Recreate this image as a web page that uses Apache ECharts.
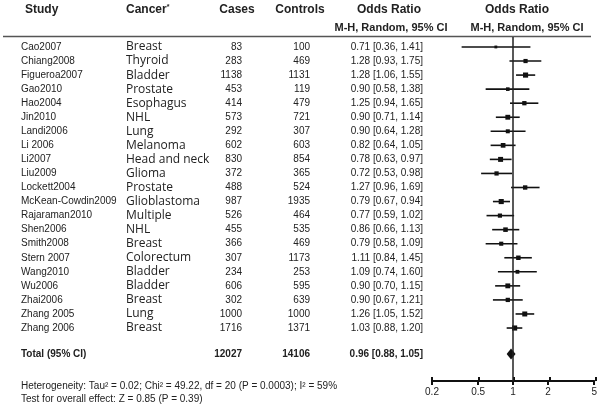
<!DOCTYPE html>
<html><head><meta charset="utf-8">
<script src="https://cdn.jsdelivr.net/npm/echarts@6/dist/echarts.min.js"></script>
<style>html,body{margin:0;padding:0;background:#fff}#c{width:600px;height:411px}</style>
</head><body><div id="c"></div>
<script>
const studies = ['Cao2007','Chiang2008','Figueroa2007','Gao2010','Hao2004','Jin2010','Landi2006','Li 2006','Li2007','Liu2009','Lockett2004','McKean-Cowdin2009','Rajaraman2010','Shen2006','Smith2008','Stern 2007','Wang2010','Wu2006','Zhai2006','Zhang 2005','Zhang 2006'];
const cancers = ['Breast','Thyroid','Bladder','Prostate','Esophagus','NHL','Lung','Melanoma','Head and neck','Glioma','Prostate','Glioblastoma','Multiple','NHL','Breast','Colorectum','Bladder','Bladder','Breast','Lung','Breast'];
const cases = [83,283,1138,453,414,573,292,602,830,372,488,987,526,455,366,307,234,606,302,1000,1716];
const controls = [100,469,1131,119,479,721,307,603,854,365,524,1935,464,535,469,1173,253,595,639,1000,1371];
const oddsRatio = [0.71,1.28,1.28,0.90,1.25,0.90,0.90,0.82,0.78,0.72,1.27,0.79,0.77,0.86,0.79,1.11,1.09,0.90,0.90,1.26,1.03];
const ciLow = [0.36,0.93,1.06,0.58,0.94,0.71,0.64,0.64,0.63,0.53,0.96,0.67,0.59,0.66,0.58,0.84,0.74,0.70,0.67,1.05,0.88];
const ciHigh = [1.41,1.75,1.55,1.38,1.65,1.14,1.28,1.05,0.97,0.98,1.69,0.94,1.02,1.13,1.09,1.45,1.60,1.15,1.21,1.52,1.20];
const weights = [2.0,4.4,6.6,3.3,4.6,5.9,4.0,5.5,6.2,4.5,4.8,6.5,4.4,5.2,4.2,5.0,3.6,5.9,4.6,6.2,6.6];
const totalLabel = 'Total (95% CI)';
const totalCases = 12027;
const totalControls = 14106;
const totalOR = 0.96, totalLow = 0.88, totalHigh = 1.05;
const axisTicks = [0.2, 0.5, 1, 2, 5];
const heterogeneityText = 'Heterogeneity: Tau\u00b2 = 0.02; Chi\u00b2 = 49.22, df = 20 (P = 0.0003); I\u00b2 = 59%';
const overallText = 'Test for overall effect: Z = 0.85 (P = 0.39)';

const SANS = '"Liberation Sans", Arial, sans-serif';
const CANCER_FONT = '"Open Sans", "Noto Sans", sans-serif';
const TXT = '#222';
const TOTAL_ROW = 21.85;
const L = Math.log10;
const fmtOR = (o, a, b) => o.toFixed(2) + ' [' + a.toFixed(2) + ', ' + b.toFixed(2) + ']';

const yCfg = (g) => ({type:'value', gridIndex:g, inverse:true, min:-0.71, max:23.77, show:false});
const gridPos = {top:37, bottom:30};

const tableData = studies.map((s, i) => [0, i]);
const ciData = studies.map((s, i) => [L(oddsRatio[i]), L(ciLow[i]), L(ciHigh[i]), i, weights[i]]);

const chart = echarts.init(document.getElementById('c'), null, {renderer:'canvas'});
chart.setOption({
  animation:false,
  backgroundColor:'#fff',
  grid:[
    Object.assign({left:0, right:0}, gridPos),
    Object.assign({left:432, right:4}, gridPos),
    Object.assign({left:432, right:4}, gridPos)
  ],
  xAxis:[
    {type:'value', gridIndex:0, min:0, max:600, show:false},
    {type:'value', gridIndex:1, min:L(0.2), max:L(5),
      axisLine:{show:true, onZero:false, lineStyle:{color:'#111', width:2}},
      axisTick:{show:true, length:4, customValues:axisTicks.map(L), lineStyle:{color:'#111', width:2}},
      axisLabel:{show:true, margin:6, customValues:axisTicks.map(L), color:TXT, fontFamily:SANS, fontSize:10,
        formatter:(v)=>String(Number(Math.pow(10, v).toPrecision(2)))},
      splitLine:{show:false}},
    {type:'value', gridIndex:2, min:L(0.2), max:L(5),
      axisLine:{show:false, onZero:false},
      axisTick:{show:true, inside:true, length:4, customValues:axisTicks.map(L), lineStyle:{color:'#111', width:2}},
      axisLabel:{show:false}, splitLine:{show:false}}
  ],
  yAxis:[yCfg(0), yCfg(1), yCfg(2)],
  series:[
    {
      type:'custom', xAxisIndex:0, yAxisIndex:0, data:tableData, silent:true,
      renderItem:(params, api) => {
        const i = api.value(1);
        const y = api.coord([0, i])[1];
        const t = (x, text, align, font) => ({type:'text', x:x, y:y,
          style:{text:text, align:align, verticalAlign:'middle', fill:TXT, font:font}});
        return {type:'group', children:[
          t(21, studies[i], 'left', '10px ' + SANS),
          t(126, cancers[i], 'left', '12px ' + CANCER_FONT),
          t(242, String(cases[i]), 'right', '10px ' + SANS),
          t(310, String(controls[i]), 'right', '10px ' + SANS),
          t(423, fmtOR(oddsRatio[i], ciLow[i], ciHigh[i]), 'right', '10px ' + SANS)
        ]};
      }
    },
    {
      type:'custom', xAxisIndex:0, yAxisIndex:0, data:[[0, TOTAL_ROW]], silent:true,
      renderItem:(params, api) => {
        const y = api.coord([0, api.value(1)])[1];
        const t = (x, text, align) => ({type:'text', x:x, y:y,
          style:{text:text, align:align, verticalAlign:'middle', fill:TXT, font:'bold 10px ' + SANS}});
        return {type:'group', children:[
          t(21, totalLabel, 'left'),
          t(242, String(totalCases), 'right'),
          t(310, String(totalControls), 'right'),
          t(423, fmtOR(totalOR, totalLow, totalHigh), 'right')
        ]};
      }
    },
    {
      type:'custom', xAxisIndex:1, yAxisIndex:1, data:ciData, silent:true, clip:false,
      renderItem:(params, api) => {
        const p = api.coord([api.value(0), api.value(3)]);
        const a = api.coord([api.value(1), api.value(3)]);
        const b = api.coord([api.value(2), api.value(3)]);
        const s = Math.sqrt(api.value(4)) * 2;
        return {type:'group', children:[
          {type:'line', shape:{x1:a[0], y1:a[1], x2:b[0], y2:b[1]}, style:{stroke:'#111', lineWidth:1.6}},
          {type:'rect', shape:{x:p[0]-s/2, y:p[1]-s/2, width:s, height:s}, style:{fill:'#111'}}
        ]};
      },
      markLine:{silent:true, symbol:'none', label:{show:false},
        lineStyle:{color:'#222', width:1.5, type:'solid'},
        data:[{xAxis:0}]}
    },
    {
      type:'custom', xAxisIndex:1, yAxisIndex:1, data:[[L(totalOR), L(totalLow), L(totalHigh), TOTAL_ROW]], silent:true,
      renderItem:(params, api) => {
        const r = api.value(3);
        const c = api.coord([api.value(0), r]);
        const a = api.coord([api.value(1), r]);
        const b = api.coord([api.value(2), r]);
        return {type:'polygon', shape:{points:[[a[0], c[1]], [c[0], c[1]-5.5], [b[0], c[1]], [c[0], c[1]+5.5]]},
          style:{fill:'#111'}};
      }
    }
  ],
  graphic:[
    {type:'text', x:25, y:10, style:{text:'Study', font:'bold 12px ' + SANS, fill:TXT, verticalAlign:'middle'}},
    {type:'text', x:126, y:10, style:{text:'{a|Cancer}{s|*}', fill:TXT, verticalAlign:'middle',
      rich:{a:{font:'bold 12px ' + SANS, fill:TXT}, s:{font:'bold 7px ' + SANS, fill:TXT, verticalAlign:'top', padding:[0,0,5,0]}}}},
    {type:'text', x:237, y:10, style:{text:'Cases', font:'bold 12px ' + SANS, fill:TXT, align:'center', verticalAlign:'middle'}},
    {type:'text', x:300, y:10, style:{text:'Controls', font:'bold 12px ' + SANS, fill:TXT, align:'center', verticalAlign:'middle'}},
    {type:'text', x:389, y:10, style:{text:'Odds Ratio', font:'bold 12px ' + SANS, fill:TXT, align:'center', verticalAlign:'middle'}},
    {type:'text', x:391, y:28, style:{text:'M-H, Random, 95% CI', font:'bold 11px ' + SANS, fill:TXT, align:'center', verticalAlign:'middle'}},
    {type:'text', x:517, y:10, style:{text:'Odds Ratio', font:'bold 12px ' + SANS, fill:TXT, align:'center', verticalAlign:'middle'}},
    {type:'text', x:527, y:28, style:{text:'M-H, Random, 95% CI', font:'bold 11px ' + SANS, fill:TXT, align:'center', verticalAlign:'middle'}},
    {type:'line', shape:{x1:3, y1:36.5, x2:591, y2:36.5}, style:{stroke:'#555', lineWidth:1.5}},
    {type:'text', x:21, y:386, style:{text:heterogeneityText, font:'10px ' + SANS, fill:TXT, verticalAlign:'middle'}},
    {type:'text', x:21, y:399, style:{text:overallText, font:'10px ' + SANS, fill:TXT, verticalAlign:'middle'}}
  ]
});
</script>
</body></html>
